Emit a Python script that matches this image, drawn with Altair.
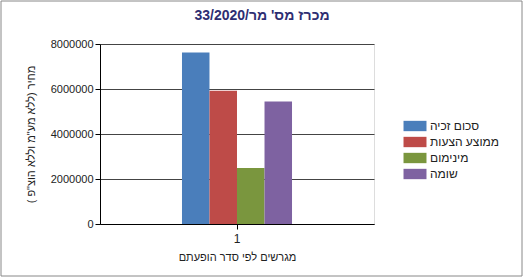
import altair as alt
import pandas as pd

categories = ["1", "1", "1", "1"]
series = ["סכום זכיה", "ממוצע הצעות", "מינימום", "שומה"]
values = [7620000, 5920000, 2490000, 5450000]
colors = ["#4A7EBB", "#BE4B48", "#7A963E", "#7E62A1"]
y_ticks = [0, 2000000, 4000000, 6000000, 8000000]

title_text = "\u202bמכרז מס' מר/33/2020\u202c"
y_title = "\u202bמחיר (ללא מע\"מ וללא הוצ\"פ )\u202c"
x_title = "מגרשים לפי סדר הופעתם"

df = pd.DataFrame({"cat": categories, "series": series, "value": values,
                   "order": list(range(len(series)))})

FONT = "Liberation Sans"

bars = alt.Chart(df).mark_bar(size=27.5).encode(
    x=alt.X("cat:N",
            scale=alt.Scale(paddingInner=0, paddingOuter=0.745),
            axis=alt.Axis(title=x_title, labelAngle=0, domainColor="#000",
                          tickColor="#000", tickSize=5, labelFontSize=12,
                          labelColor="#222", titleFontSize=11, titleColor="#222",
                          titleFontWeight="normal", titlePadding=7, labelPadding=4,
                          grid=False)),
    xOffset=alt.XOffset("series:N", sort=series,
                        scale=alt.Scale(paddingInner=0, paddingOuter=0)),
    y=alt.Y("value:Q",
            scale=alt.Scale(domain=[0, 8000000], nice=False),
            axis=alt.Axis(title=y_title, values=y_ticks, format="d",
                          domainColor="#000", tickColor="#000", tickSize=5,
                          labelFontSize=11, labelColor="#222",
                          gridColor="#444", gridWidth=1,
                          titleFontSize=11, titleColor="#222",
                          titleFontWeight="normal", titlePadding=14,
                          labelPadding=2)),
    color=alt.Color("series:N", sort=series,
                    scale=alt.Scale(domain=series, range=colors),
                    legend=alt.Legend(title=None, orient="none",
                                      legendX=309, legendY=76,
                                      symbolType="M-2,-0.9H2V0.9H-2Z",
                                      symbolSize=132, symbolStrokeWidth=0,
                                      labelFontSize=12, labelColor="#222",
                                      rowPadding=4, labelOffset=9,
                                      labelFont=FONT)),
)

border = alt.Chart(pd.DataFrame({"a": [0]})).mark_rect(
    fill=None, stroke="#888", strokeWidth=1
).encode(
    x=alt.value(-99), x2=alt.value(422),
    y=alt.value(-43), y2=alt.value(232),
)

chart = alt.layer(bars, border).properties(
    width=274, height=180,
    title=alt.TitleParams(title_text, fontSize=14, fontWeight="bold",
                          color="#2E2E72", font=FONT, anchor="middle",
                          frame="group", dx=25, offset=-22),
    autosize=alt.AutoSizeParams(type="none"),
    padding={"left": 100, "top": 44, "right": 152, "bottom": 53},
).configure_view(stroke=None).configure(font=FONT, background="white")

chart.save("out.html", embed_options={"renderer": "svg", "actions": False})
